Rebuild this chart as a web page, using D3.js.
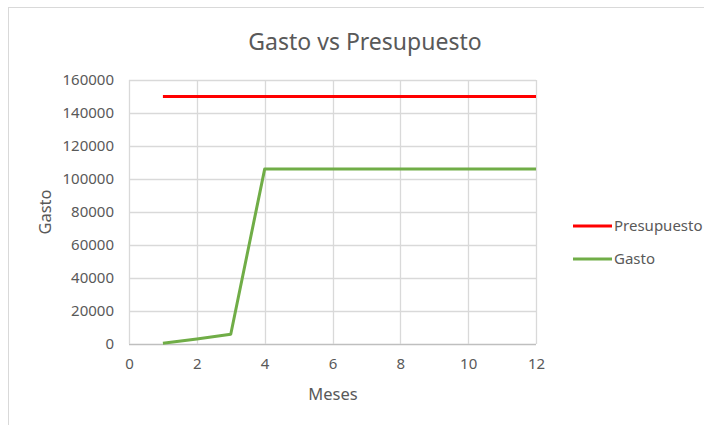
<!DOCTYPE html>
<html>
<head>
<meta charset="utf-8">
<script src="https://cdn.jsdelivr.net/npm/d3@7"></script>
<style>
  body { margin: 0; background: #fff; }
  text { font-family: "Noto Sans", sans-serif; fill: #595959; }
</style>
</head>
<body>
<svg width="704" height="425"></svg>
<script>
// data
let meses = [1, 2, 3, 4, 5, 6, 7, 8, 9, 10, 11, 12];
let presupuesto = [150000, 150000, 150000, 150000, 150000, 150000, 150000, 150000, 150000, 150000, 150000, 150000];
let gasto = [500, 3000, 5900, 106000, 106000, 106000, 106000, 106000, 106000, 106000, 106000, 106000];
let xTicks = [0, 2, 4, 6, 8, 10, 12];
let yTicks = [0, 20000, 40000, 60000, 80000, 100000, 120000, 140000, 160000];

let series = [
  { name: "Presupuesto", values: presupuesto, color: "#ff0000" },
  { name: "Gasto", values: gasto, color: "#70ad47" }
];

let svg = d3.select("svg");

// chart border
svg.append("rect")
  .attr("x", 8.5).attr("y", 7.5)
  .attr("width", 720).attr("height", 440)
  .attr("fill", "none")
  .attr("stroke", "#d9d9d9");

let plotLeft = 129, plotRight = 536, plotTop = 80, plotBottom = 344;

let x = d3.scaleLinear().domain([0, 12]).range([plotLeft, plotRight]);
let y = d3.scaleLinear().domain([0, 160000]).range([plotBottom, plotTop]);

// grid
svg.append("g")
  .selectAll("line")
  .data(yTicks)
  .join("line")
  .attr("x1", plotLeft).attr("x2", plotRight)
  .attr("y1", d => Math.round(y(d)) + 0.5).attr("y2", d => Math.round(y(d)) + 0.5)
  .attr("stroke", d => d == 0 ? "#bfbfbf" : "#d9d9d9")
  .attr("stroke-width", 1.3);

svg.append("g")
  .selectAll("line")
  .data(xTicks)
  .join("line")
  .attr("y1", plotTop).attr("y2", plotBottom)
  .attr("x1", d => Math.round(x(d)) + 0.5).attr("x2", d => Math.round(x(d)) + 0.5)
  .attr("stroke", "#d9d9d9")
  .attr("stroke-width", 1.3);

// axes labels
let xAxis = svg.append("g")
  .attr("transform", `translate(0,${plotBottom})`)
  .call(d3.axisBottom(x).tickValues(xTicks).tickSize(0).tickPadding(14));
xAxis.select(".domain").remove();
xAxis.selectAll("text")
  .attr("font-size", 15)
  .style("font-family", "Noto Sans")
  .attr("fill", "#595959");

let yAxis = svg.append("g")
  .attr("transform", `translate(${plotLeft},0)`)
  .call(d3.axisLeft(y).tickValues(yTicks).tickFormat(d3.format("d")).tickSize(0).tickPadding(15));
yAxis.select(".domain").remove();
yAxis.selectAll("text")
  .attr("font-size", 15)
  .style("font-family", "Noto Sans")
  .attr("fill", "#595959");

// lines
let line = d3.line()
  .x((d, i) => x(meses[i]))
  .y(d => y(d));

svg.selectAll(".serie")
  .data(series)
  .join("path")
  .attr("class", "serie")
  .attr("d", d => line(d.values))
  .attr("fill", "none")
  .attr("stroke", d => d.color)
  .attr("stroke-width", 3)
  .attr("stroke-linejoin", "round");

// title
svg.append("text")
  .attr("x", 365).attr("y", 50)
  .attr("text-anchor", "middle")
  .attr("font-size", 23)
  .text("Gasto vs Presupuesto");

svg.append("text")
  .attr("x", 333).attr("y", 400)
  .attr("text-anchor", "middle")
  .attr("font-size", 16.5)
  .text("Meses");

svg.append("text")
  .attr("transform", "translate(51,212) rotate(-90)")
  .attr("text-anchor", "middle")
  .attr("font-size", 16.5)
  .text("Gasto");

// legend
let legend = svg.append("g")
  .selectAll("g")
  .data(series)
  .join("g")
  .attr("transform", (d, i) => `translate(573,${226 + i * 33})`);

legend.append("line")
  .attr("x1", 0).attr("x2", 39)
  .attr("stroke", d => d.color)
  .attr("stroke-width", 3);

legend.append("text")
  .attr("x", 41).attr("dy", "0.35em")
  .attr("font-size", 15)
  .text(d => d.name);
</script>
</body>
</html>
